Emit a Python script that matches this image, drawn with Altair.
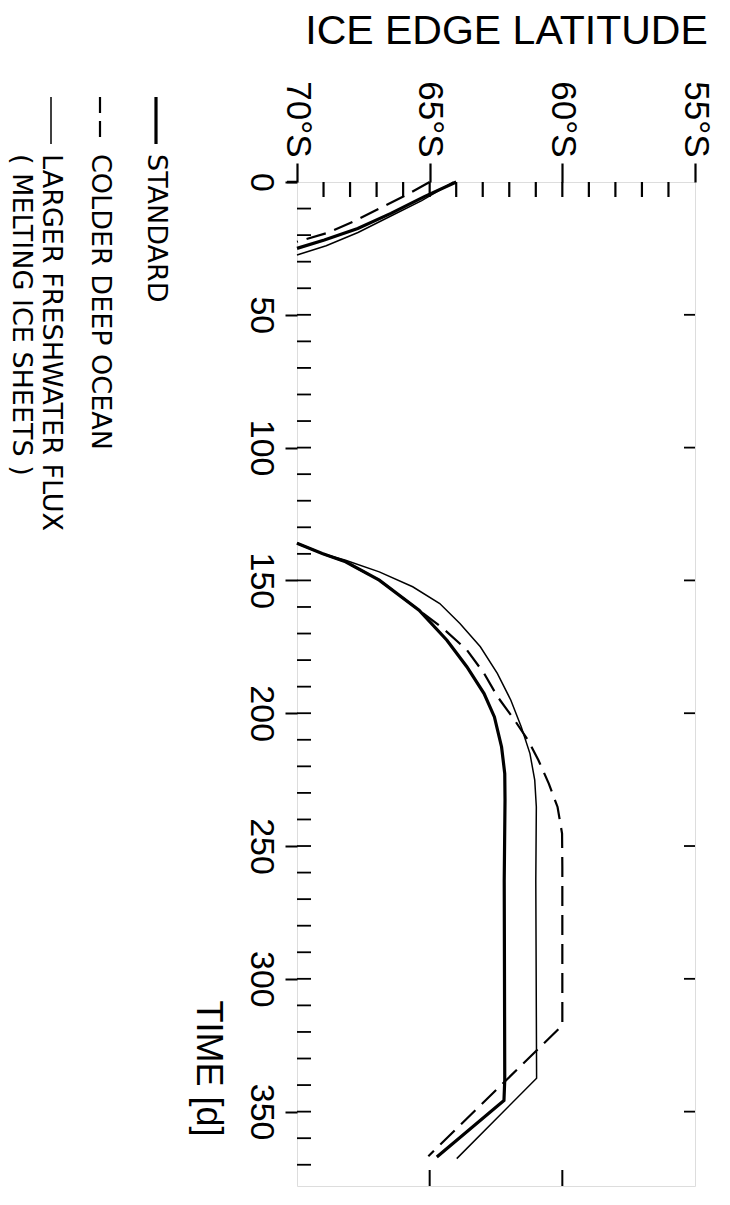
import altair as alt
import pandas as pd

# ---------------- data ----------------
LAT_TICKS = [70, 65, 60, 55]
LAT_MINOR = [69, 68, 67, 66, 64, 63, 62, 61, 59, 58, 57, 56]
TIME_TICKS = [0, 50, 100, 150, 200, 250, 300, 350]
TIME_MINOR = [10, 20, 30, 40, 50, 60, 70, 80, 90, 100, 110, 120, 130, 140, 150,
              160, 170, 180, 190, 200, 210, 220, 230, 240, 250, 260, 270, 280,
              290, 300, 310, 320, 330, 340, 350, 360, 370]
RIGHT_TICKS = [50, 100, 150, 200, 250, 300, 350]
BOTTOM_TICKS = [65, 60]

# STANDARD
std_a_t = [0, 5.5, 11.8, 17.5, 21.8, 25]
std_a_lat = [64.0, 65.2, 66.46, 67.71, 68.97, 70.0]
std_b_t = [136, 139.9, 143, 149.9, 161.2, 172.5, 182.5, 192.6, 201.4, 212.7,
           222.7, 232.8, 263, 300, 338, 345.8, 367.1]
std_b_lat = [70.0, 69.05, 68.17, 66.9, 65.4, 64.35, 63.6, 62.95, 62.56, 62.29,
             62.17, 62.16, 62.19, 62.18, 62.17, 62.2, 64.73]

# COLDER DEEP OCEAN
cold_a_t = [0, 5, 10, 15, 19, 22.5]
cold_a_lat = [65.0, 65.9, 66.9, 67.9, 68.8, 70.0]
cold_b_t = [136, 139.9, 143, 149.9, 161.2, 168.1, 176.3, 185.0, 193.8, 202.6,
            210.2, 217.7, 226.5, 235.3, 245.3, 258, 314.4, 317.5, 366.8]
cold_b_lat = [70.0, 69.05, 68.17, 66.9, 65.4, 64.49, 63.59, 62.95, 62.44, 61.8,
              61.29, 60.9, 60.51, 60.18, 60.01, 60.0, 60.0, 60.0, 65.05]

# LARGER FRESHWATER FLUX
fresh_a_t = [0, 7, 13, 19, 24, 27.5]
fresh_a_lat = [64.1, 65.3, 66.5, 67.7, 68.9, 70.0]
fresh_b_t = [136, 139.9, 142.4, 146.8, 152.4, 158.7, 166.2, 175.0, 185.0, 195.1,
             205.1, 215.2, 225.2, 235.3, 263, 337.4, 367.7]
fresh_b_lat = [70.0, 69.05, 68.17, 66.9, 65.64, 64.62, 63.86, 63.09, 62.45, 61.94,
               61.55, 61.22, 61.04, 60.98, 61.0, 60.97, 63.98]

LEGEND_LABELS = ["STANDARD", "COLDER DEEP OCEAN", "LARGER FRESHWATER FLUX",
                 "( MELTING ICE SHEETS )"]

# ---------------- helpers ----------------
W, H = 398, 1004
FONT = "Liberation Sans"
LEG_FONT = "DejaVu Sans"


def series(ta, la, tb, lb):
    rows = [{"t": t, "lat": l, "seg": "a"} for t, l in zip(ta, la)]
    rows += [{"t": t, "lat": l, "seg": "b"} for t, l in zip(tb, lb)]
    return pd.DataFrame(rows)


df_std = series(std_a_t, std_a_lat, std_b_t, std_b_lat)
df_cold = series(cold_a_t, cold_a_lat, cold_b_t, cold_b_lat)
df_fresh = series(fresh_a_t, fresh_a_lat, fresh_b_t, fresh_b_lat)

xscale = alt.Scale(domain=[70, 55], nice=False, zero=False)
yscale = alt.Scale(domain=[0, 378], nice=False, zero=False, reverse=True)

xaxis = alt.Axis(
    orient="top", values=LAT_TICKS, labelExpr="datum.value + '°S'",
    labelAngle=90, labelAlign="right", labelBaseline="middle",
    labelFontSize=35, labelPadding=6, labelColor="black", labelFont=FONT,
    tickSize=19, tickWidth=2.2, tickColor="black", domain=False, grid=False,
    title="ICE EDGE LATITUDE", titleFontSize=41, titleFontWeight="normal",
    titleAngle=0, titleX=209, titleY=-139, titleAlign="center",
    titleBaseline="alphabetic", titleColor="black", titleFont=FONT,
)
yaxis = alt.Axis(
    orient="left", values=TIME_TICKS, labelAngle=90, labelAlign="center",
    labelBaseline="top", labelFontSize=34, labelPadding=8, labelColor="black",
    labelFont=FONT, tickSize=12, tickWidth=2, tickColor="black", domain=False,
    grid=False, title="TIME [d]", titleFontSize=36, titleFontWeight="normal",
    titleAngle=90, titleX=-90, titleY=818, titleAlign="left",
    titleBaseline="middle", titleColor="black", titleFont=FONT,
)


def X():
    return alt.X("lat:Q", scale=xscale, axis=xaxis)


def Y():
    return alt.Y("t:Q", scale=yscale, axis=yaxis)


line_std = alt.Chart(df_std).mark_line(color="black", strokeWidth=3.2).encode(
    x=X(), y=Y(), detail="seg:N", order="t:Q")
line_fresh = alt.Chart(df_fresh).mark_line(color="black", strokeWidth=1.5).encode(
    x=X(), y=Y(), detail="seg:N", order="t:Q")
line_cold = alt.Chart(df_cold).mark_line(color="black", strokeWidth=2.2,
                                         strokeDash=[20, 9]).encode(
    x=X(), y=Y(), detail="seg:N", order="t:Q")

# inward ticks
top_in = alt.Chart(pd.DataFrame({"lat": LAT_MINOR + LAT_TICKS[1:3]})).mark_rule(
    color="black", strokeWidth=2.2).encode(x=X(), y=alt.value(0), y2=alt.value(15))
left_in = alt.Chart(pd.DataFrame({"t": TIME_MINOR})).mark_rule(
    color="black", strokeWidth=1.8).encode(y=Y(), x=alt.value(0), x2=alt.value(14))
right_in = alt.Chart(pd.DataFrame({"t": RIGHT_TICKS})).mark_rule(
    color="black", strokeWidth=1.8).encode(y=Y(), x=alt.value(W), x2=alt.value(W - 11))
bottom_in = alt.Chart(pd.DataFrame({"lat": BOTTOM_TICKS})).mark_rule(
    color="black", strokeWidth=2).encode(x=X(), y=alt.value(H), y2=alt.value(H - 16))

one = pd.DataFrame({"k": [0]})
# top axis line overshoot at the left
top_overshoot = alt.Chart(one).mark_rule(color="black", strokeWidth=2.5).encode(
    x=alt.value(-10), x2=alt.value(0), y=alt.value(0))

# legend
leg_x = [-141, -197, -246, -276]
leg_std = alt.Chart(one).mark_rule(color="black", strokeWidth=3.2).encode(
    x=alt.value(leg_x[0]), y=alt.value(-85), y2=alt.value(-38))
leg_cold = alt.Chart(one).mark_rule(color="black", strokeWidth=2.2,
                                    strokeDash=[16, 8]).encode(
    x=alt.value(leg_x[1]), y=alt.value(-85), y2=alt.value(-38))
leg_fresh = alt.Chart(one).mark_rule(color="black", strokeWidth=1.5).encode(
    x=alt.value(leg_x[2]), y=alt.value(-85), y2=alt.value(-38))

leg_texts = []
for lab, lx in zip(LEGEND_LABELS, leg_x):
    leg_texts.append(
        alt.Chart(pd.DataFrame({"label": [lab]})).mark_text(
            angle=90, align="left", baseline="middle", fontSize=27,
            font=LEG_FONT, color="black").encode(
            text="label:N", x=alt.value(lx), y=alt.value(-28))
    )

chart = alt.layer(
    line_std, line_fresh, line_cold, top_in, left_in, right_in, bottom_in,
    top_overshoot, leg_std, leg_cold, leg_fresh, *leg_texts
).properties(
    width=W, height=H,
    autosize=alt.AutoSizeParams(type="none"),
    padding={"left": 289, "top": 174, "right": 27, "bottom": 11},
).configure_view(
    stroke="black", strokeWidth=2.5
).configure(font=FONT, background="white")

chart.save("out.html", embed_options={"renderer": "svg", "actions": False})
